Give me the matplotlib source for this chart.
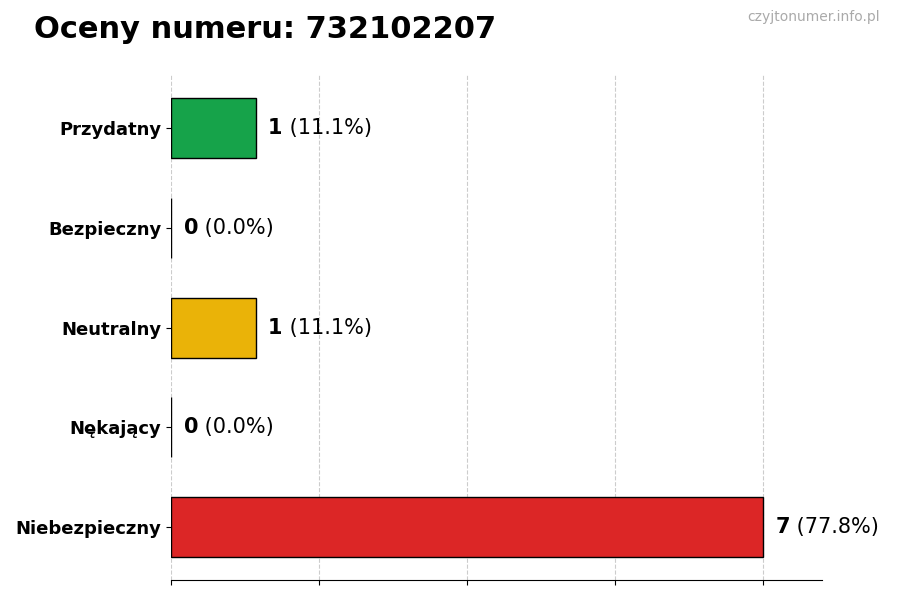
import matplotlib.pyplot as plt
import numpy as np

categories = ['Przydatny', 'Bezpieczny', 'Neutralny', 'Nękający', 'Niebezpieczny']
counts = [1, 0, 1, 0, 7]
colors = ['#16a34a', '#16a34a', '#eab308', '#dc2626', '#dc2626']
title = 'Oceny numeru: 732102207'

total = sum(counts)
pct = [100 * c / total for c in counts]

fig, ax = plt.subplots(figsize=(9, 6), dpi=100)
fig.subplots_adjust(left=0.19, right=0.913, top=0.875, bottom=0.033)

y = np.arange(len(categories))
ax.barh(y, counts, height=0.6, color=colors, edgecolor='black', linewidth=1, zorder=2)
ax.set_yticks(y)
ax.set_yticklabels(categories, fontsize=13, fontweight='bold')
ax.invert_yaxis()

xmax = max(counts) * 1.1
ax.set_xlim(0, xmax)
ax.set_xticks(np.linspace(0, max(counts), 5))
ax.set_xticklabels([])
ax.grid(axis='x', linestyle='--', color='#cccccc', linewidth=0.8, zorder=0)

for s in ['top', 'right', 'left']:
    ax.spines[s].set_visible(False)

fig.canvas.draw()
r = fig.canvas.get_renderer()
off = 0.15
for i, (c, p) in enumerate(zip(counts, pct)):
    t = ax.text(c + off, i, str(c), fontsize=15, fontweight='bold', va='center', ha='left')
    bb = t.get_window_extent(renderer=r)
    ax.annotate(' (%.1f%%)' % p, xy=(bb.x1, bb.y0 + bb.height / 2), xycoords='figure pixels',
                fontsize=15, va='center', ha='left')

fig.text(34 / 900, 1 - 30 / 600, title, fontsize=22, fontweight='bold', va='center', ha='left')
fig.text(880 / 900, 1 - 17 / 600, 'czyjtonumer.info.pl', fontsize=10, color='#aaaaaa',
         va='center', ha='right')

plt.savefig('out.png')
